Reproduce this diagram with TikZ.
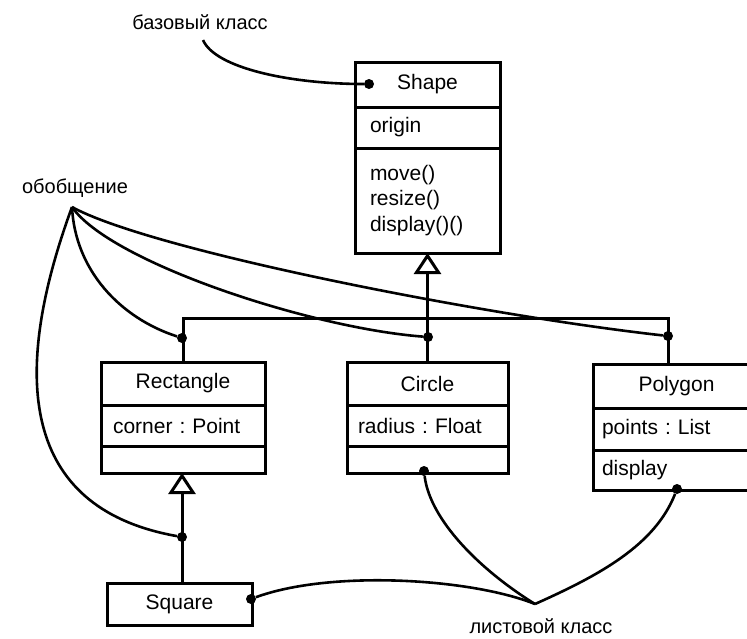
\documentclass[tikz,border=0pt]{standalone}
\usepackage{fontspec}
\setmainfont{Liberation Sans}
\usetikzlibrary{positioning,arrows.meta}

\tikzset{
  box/.style={draw, line width=3pt, outer sep=0pt, inner sep=0pt,
    font=\fontsize{21}{25.5}\selectfont\frenchspacing},
  head/.style={box, minimum height=#1},
  part/.style={box, align=left, inner xsep=#1},
  link/.style={line width=3pt},
  note/.style={line width=2.6pt},
  gen/.style={link, -{Triangle[open, length=21pt, width=27pt]}},
  dot/.style={circle, fill, inner sep=0pt, minimum size=10pt},
  lbl/.style={font=\fontsize{20}{24}\selectfont}
}

\begin{document}
\begin{tikzpicture}[x=1pt, y=-1pt]
	\useasboundingbox (0,0) rectangle (747,638);
	% base class
	\node (shapehd) [head=45pt, minimum width=145pt] at (427.5,84.5) {Shape};
	\node (shapeat) [part=15pt, text width=115pt, minimum height=41pt, below=0pt of shapehd] {origin};
	\node (shapeop) [part=15pt, text width=115pt, minimum height=105pt, below=0pt of shapeat] {move()\\resize()\\display()()};
	% subclasses
	\node (recthd) [head=43pt, minimum width=164pt] at (183,383.5) {Rectangle};
	\node (rectat) [part=12pt, text width=140pt, minimum height=41pt, below=0pt of recthd] {corner : Point};
	\node (rectop) [part=12pt, text width=140pt, minimum height=27pt, below=0pt of rectat] {};
	\node (circhd) [head=43pt, minimum width=161pt] at (427.5,383.5) {Circle};
	\node (circat) [part=11pt, text width=139pt, minimum height=41pt, below=0pt of circhd] {radius : Float};
	\node (circop) [part=11pt, text width=139pt, minimum height=27pt, below=0pt of circat] {};
	\node (polyhd) [head=44pt, minimum width=167pt] at (676.5,386) {Polygon};
	\node (polyat) [part=9pt, text width=149pt, minimum height=42pt, below=0pt of polyhd] {points : List};
	\node (polyop) [part=9pt, text width=149pt, minimum height=40pt, below=0pt of polyat] {display};
	\node (square) [head=42pt, minimum width=145pt] at (179.5,604) {Square};
	% generalization
	\coordinate (joint) at (427.5,318);
	\coordinate (polyin) at (668,364);
	\coordinate (rectjoint) at (182,497);
	\draw [gen] (joint) -- (shapeop.south);
	\draw [link] (recthd.north) |- (joint) -| (polyin);
	\draw [link] (joint) -- (circhd.north);
	\draw [gen] (square.north -| rectjoint) -- (rectop.south -| rectjoint);
	% dots
	\node (dshape) [dot] at (369,84) {};
	\node (drect) [dot] at (182,338) {};
	\node (dcirc) [dot] at (428,337) {};
	\node (dpoly) [dot] at (668,336) {};
	\node (dsq) [dot] at (182,537) {};
	\node (dsqleaf) [dot] at (251,599) {};
	\node (dcircleaf) [dot] at (424,471) {};
	\node (dpolyleaf) [dot] at (677,489) {};
	% notes
	\node (baselbl) [lbl] at (200,22) {базовый класс};
	\node (genlbl) [lbl] at (75,188) {обобщение};
	\node (leaflbl) [lbl] at (541,626) {листовой класс};
	\coordinate (basept) at (203,40);
	\coordinate (genpt) at (72,207);
	\coordinate (leafpt) at (535,604);
	\draw [note] (basept) .. controls (215,68) and (290,84) .. (dshape);
	\draw [note] (genpt) .. controls (75,270) and (120,318) .. (drect);
	\draw [note] (genpt) .. controls (5,390) and (30,510) .. (dsq);
	\draw [note] (genpt) .. controls (110,262) and (310,328) .. (dcirc);
	\draw [note] (genpt) .. controls (150,250) and (480,315) .. (dpoly);
	\draw [note] (leafpt) .. controls (480,570) and (430,520) .. (dcircleaf);
	\draw [note] (leafpt) .. controls (600,575) and (655,545) .. (dpolyleaf);
	\draw [note] (leafpt) .. controls (470,578) and (330,570) .. (dsqleaf);
\end{tikzpicture}
\end{document}
